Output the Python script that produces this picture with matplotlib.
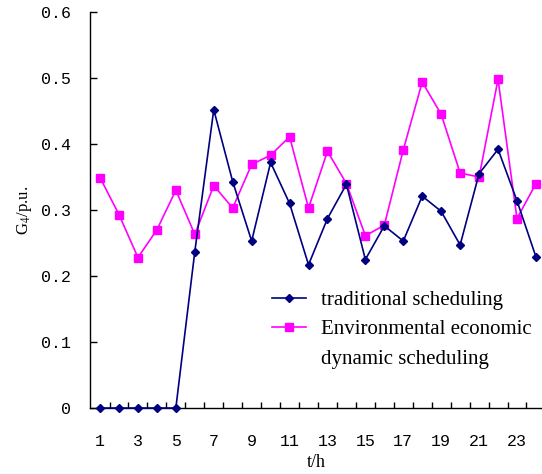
import matplotlib
matplotlib.use("Agg")
import matplotlib.pyplot as plt
from matplotlib.ticker import FixedLocator

plt.rcParams["mathtext.fontset"] = "stix"

hours = list(range(1, 25))
traditional = [0, 0, 0, 0, 0, 0.237, 0.452, 0.343, 0.253, 0.372, 0.310, 0.217,
               0.287, 0.339, 0.225, 0.276, 0.253, 0.321, 0.298, 0.247, 0.355, 0.392,
               0.314, 0.229]
environmental = [0.349, 0.293, 0.228, 0.270, 0.330, 0.263, 0.337, 0.303, 0.369, 0.383,
                 0.411, 0.303, 0.389, 0.340, 0.261, 0.277, 0.391, 0.494, 0.445, 0.356,
                 0.350, 0.498, 0.287, 0.340]
xtick_labels = [1, 3, 5, 7, 9, 11, 13, 15, 17, 19, 21, 23]
ytick_vals = [0, 0.1, 0.2, 0.3, 0.4, 0.5, 0.6]

serif = "Liberation Serif"
mono = "Liberation Mono"

fig = plt.figure(figsize=(5.42, 4.74), dpi=100)
ax = fig.add_axes([90/542, 1-408/474, 452/542, (408-12)/474])

ax.plot(hours, traditional, color="#000080", marker="D", markersize=4.5,
        linewidth=1.2, label="traditional scheduling", clip_on=False, zorder=3)
ax.plot(hours, environmental, color="#FF00FF", marker="s", markersize=6,
        linewidth=1.2, label="Environmental economic", clip_on=False, zorder=2)
ax.plot([], [], color="none", label="dynamic scheduling")

ax.set_xlim(0.47, 24.32)
ax.set_ylim(0, 0.6)

ax.spines["top"].set_visible(False)
ax.spines["right"].set_visible(False)
for s in ("left", "bottom"):
    ax.spines[s].set_linewidth(1.0)

ax.xaxis.set_major_locator(FixedLocator(xtick_labels))
ax.set_xticklabels([str(v) for v in xtick_labels], fontfamily=mono, fontsize=12)
ax.xaxis.set_minor_locator(FixedLocator([h + 0.5 for h in hours[:-1]]))
ax.tick_params(axis="x", which="major", length=0, pad=19)
ax.tick_params(axis="x", which="minor", direction="in", length=4, width=1)

ax.set_yticks(ytick_vals)
ax.set_yticklabels(["0" if v == 0 else f"{v:.1f}" for v in ytick_vals], fontfamily=mono, fontsize=12)
ax.tick_params(axis="y", direction="in", length=5, width=1, pad=14)

ax.set_xlabel("t/h", fontfamily=serif, fontsize=13, labelpad=3)
ax.set_ylabel("G$_4$/p.u.", fontfamily=serif, fontsize=12, labelpad=5)

leg = ax.legend(loc="upper left", bbox_to_anchor=(0.385, 0.318), frameon=False,
                prop={"family": serif, "size": 15}, handlelength=1.6,
                handletextpad=0.75, labelspacing=0.47, borderaxespad=0)

fig.savefig("out.png", dpi=100)
